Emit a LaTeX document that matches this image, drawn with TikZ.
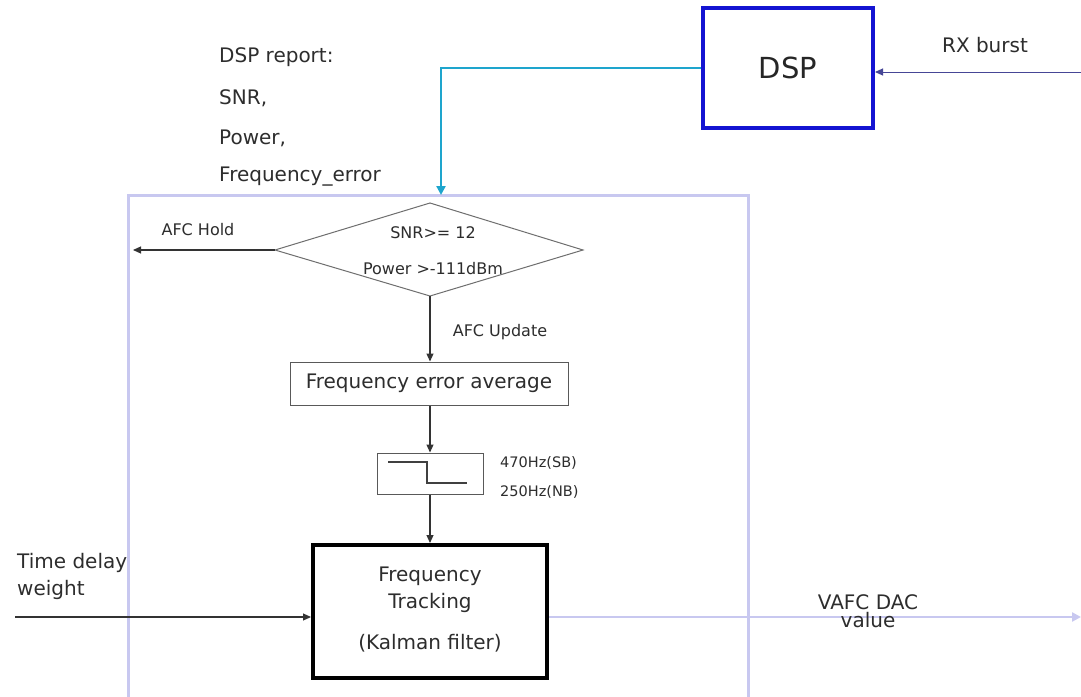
\documentclass[tikz,border=0pt]{standalone}
\usepackage{fontspec}
\setmainfont{DejaVu Sans}
\usetikzlibrary{arrows.meta,shapes.geometric}
\definecolor{dspblue}{RGB}{20,20,210}
\definecolor{cyanline}{RGB}{30,165,205}
\definecolor{lav}{RGB}{200,200,240}
\definecolor{rxline}{RGB}{70,70,150}
\definecolor{dgray}{RGB}{110,110,110}
\definecolor{txt}{RGB}{45,45,45}
\tikzset{
  lbl/.style={font=\fontsize{20}{24}\selectfont, text=txt, inner sep=0pt},
  slbl/.style={font=\fontsize{16}{19}\selectfont, text=txt, inner sep=0pt},
  hlbl/.style={font=\fontsize{14.5}{17}\selectfont, text=txt, inner sep=0pt},
  conn/.style={draw=black!80, line width=1.1pt, -{Triangle[length=8pt,width=7pt]}},
  plainbox/.style={draw=black!65, line width=1pt, inner sep=0pt},
}
\begin{document}
\begin{tikzpicture}[x=1pt,y=-1pt]
\useasboundingbox (0,0) rectangle (1081,696);
\fill[white] (0,0) rectangle (1081,696);
% big light frame
\draw[lav, line width=3pt] (128,720) -- (128,195) -- (748,195) -- (748,720);
% DSP
\node[draw=dspblue, line width=4pt, minimum width=170pt, minimum height=120pt, inner sep=0pt,
  font=\fontsize{29}{34}\selectfont, text=black!85] (dsp) at (788,68) {DSP};
\coordinate (rxin) at (1081,72);
\draw[rxline, line width=1pt, -{Triangle[length=8pt,width=7pt]}] (rxin) -- (rxin -| dsp.east);
\node[lbl] (rxl) at (985,45) {RX burst};
% DSP report text
\node[lbl, anchor=west] (r1) at (219,57) {DSP report:};
\node[lbl, anchor=west] (r2) at (219,98) {SNR,};
\node[lbl, anchor=west] (r3) at (219,138) {Power,};
\node[lbl, anchor=west] (r4) at (219,177) {Frequency\_error};
% diamond
\coordinate (dtop) at (430,203);
\coordinate (dleft) at (275,250);
\coordinate (dright) at (583,250);
\coordinate (dbot) at (430,296);
\draw[dgray, line width=1pt] (dtop) -- (dright) -- (dbot) -- (dleft) -- cycle;
\node[slbl] (snr) at (433,233) {SNR>= 12};
\node[slbl] (pow) at (433,269) {Power >-111dBm};
% cyan arrow
\coordinate (cyin) at (441,195);
\draw[cyanline, line width=2.5pt, -{Triangle[length=9pt,width=9pt]}] (dsp.west |- 0,68) -- (441,68) -- (cyin);
% AFC hold
\coordinate (hold) at (133,250);
\draw[conn] (dleft) -- (hold);
\node[slbl] (holdl) at (198,230) {AFC Hold};
% freq err avg
\node[plainbox, minimum width=278pt, minimum height=43pt, font=\fontsize{20}{24}\selectfont, text=txt] (fea) at (429,383.5) {Frequency error average};
\draw[conn] (dbot) -- (fea.north -| dbot);
\node[slbl] (upd) at (500,332) {AFC Update};
% hysteresis
\node[plainbox, minimum width=106pt, minimum height=41pt] (hyst) at (430,473.5) {};
\draw[black!75, line width=1.2pt] (388,462) -- (427,462) -- (427,483) -- (467,483);
\draw[conn] (fea.south -| hyst.north) -- (hyst.north);
\node[hlbl, anchor=west] (sb) at (500,463) {470Hz(SB)};
\node[hlbl, anchor=west] (nb) at (500,492) {250Hz(NB)};
% Kalman
\node[draw=black, line width=4pt, minimum width=234pt, minimum height=133pt, inner sep=0pt] (kal) at (430,611.5) {};
\node[lbl] (k1) at (430,576) {Frequency};
\node[lbl] (k2) at (430,603) {Tracking};
\node[lbl] (k3) at (430,643) {(Kalman filter)};
\draw[conn] (hyst.south) -- (kal.north -| hyst.south);
% time delay
\node[lbl, anchor=west] (td1) at (17,563) {Time delay};
\node[lbl, anchor=west] (td2) at (17,590) {weight};
\coordinate (tdin) at (15,617);
\draw[conn] (tdin) -- (tdin -| kal.west);
% output
\coordinate (out) at (1081,617);
\draw[lav, line width=2.5pt, -{Triangle[length=9pt,width=9pt]}] (kal.east |- out) -- (out);
\node[lbl] (vafc1) at (868,602) {VAFC DAC};
\node[lbl] (vafc2) at (868,620) {value};
\end{tikzpicture}
\end{document}
